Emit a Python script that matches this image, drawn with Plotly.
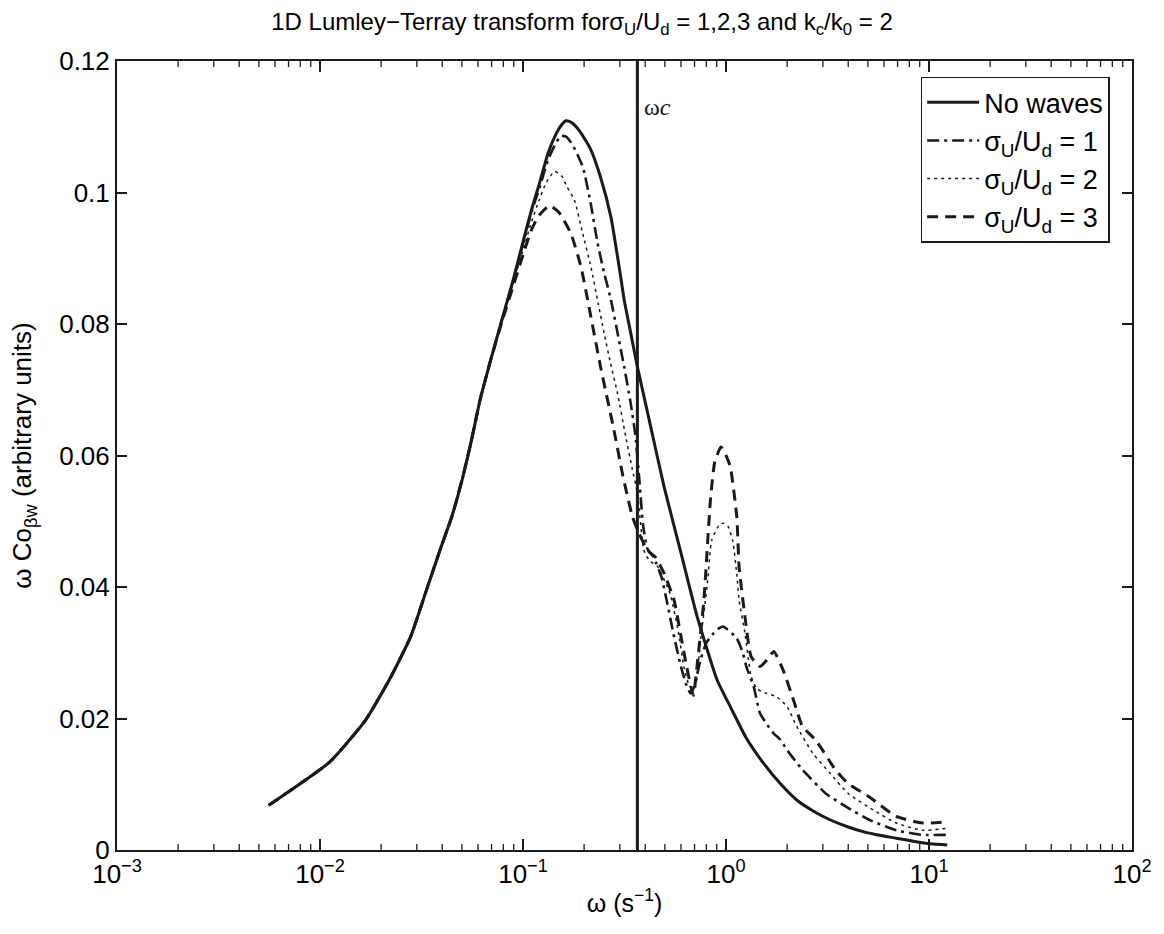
import math
import plotly.graph_objects as go

# ---------------- data ----------------
omega_nw = [0.00559, 0.01118, 0.0168, 0.0224, 0.028, 0.0335, 0.0391, 0.0447, 0.0503, 0.0559,
            0.0615, 0.07, 0.08, 0.09, 0.10, 0.11, 0.12, 0.133, 0.145, 0.155, 0.163, 0.172,
            0.185, 0.20, 0.216, 0.24, 0.271, 0.30, 0.315, 0.34, 0.366, 0.42, 0.495, 0.6,
            0.721, 0.903, 1.05, 1.25, 1.53, 1.85, 2.23, 2.7, 3.25, 4.0, 4.73, 5.8, 6.89,
            8.5, 10.5, 12.3]
co_nw = [0.0068, 0.0134, 0.0198, 0.0264, 0.0325, 0.0396, 0.0457, 0.0508, 0.0565, 0.0625,
         0.0685, 0.0750, 0.0814, 0.0870, 0.0925, 0.0973, 0.1012, 0.1060, 0.1088, 0.1103,
         0.1109, 0.1107, 0.1098, 0.1083, 0.1065, 0.1025, 0.0963, 0.0880, 0.0837, 0.0785,
         0.0735, 0.0652, 0.0553, 0.0452, 0.0355, 0.0259, 0.0218, 0.0172, 0.0132, 0.0101,
         0.0076, 0.0059, 0.0046, 0.0035, 0.0028, 0.0022, 0.0018, 0.0013, 0.0009, 0.00076]

omega_s1 = [0.00559, 0.01118, 0.0168, 0.0224, 0.028, 0.0335, 0.0391, 0.0447, 0.0503, 0.0559,
            0.0615, 0.07, 0.08, 0.09, 0.10, 0.11, 0.12, 0.133, 0.145, 0.154, 0.163, 0.175,
            0.197, 0.215, 0.233, 0.25, 0.271, 0.295, 0.315, 0.339, 0.358, 0.375, 0.39, 0.41,
            0.44, 0.48, 0.51, 0.55, 0.60, 0.64, 0.67, 0.70, 0.75, 0.80, 0.87, 0.93, 0.97,
            1.02, 1.13, 1.21, 1.26, 1.37, 1.47, 1.6, 1.72, 1.85, 2.0, 2.38, 3.1, 3.9, 5.07,
            6.9, 9.3, 12.3]
co_s1 = [0.0068, 0.0134, 0.0198, 0.0264, 0.0325, 0.0396, 0.0457, 0.0508, 0.0565, 0.0625,
         0.0685, 0.0750, 0.0814, 0.0869, 0.0922, 0.0970, 0.1005, 0.1050, 0.1075, 0.1086,
         0.1085, 0.1073, 0.1039, 0.0985, 0.0923, 0.0880, 0.0837, 0.0780, 0.0735, 0.0680,
         0.0630, 0.0560, 0.0495, 0.0458, 0.0445, 0.0416, 0.0380, 0.0330, 0.0279, 0.0250,
         0.0238, 0.0250, 0.0290, 0.0315, 0.0330, 0.0338, 0.0340, 0.0335, 0.0322, 0.0300,
         0.0279, 0.0248, 0.0208, 0.0190, 0.0177, 0.0168, 0.0152, 0.0122, 0.0086, 0.0066,
         0.0046, 0.0030, 0.0023, 0.0023]

omega_s2 = [0.00559, 0.01118, 0.0168, 0.0224, 0.028, 0.0335, 0.0391, 0.0447, 0.0503, 0.0559,
            0.0615, 0.07, 0.08, 0.09, 0.10, 0.11, 0.12, 0.13, 0.143, 0.155, 0.165, 0.179,
            0.196, 0.216, 0.235, 0.251, 0.27, 0.292, 0.32, 0.345, 0.366, 0.394, 0.42, 0.46,
            0.53, 0.584, 0.62, 0.66, 0.70, 0.75, 0.81, 0.85, 0.93, 0.974, 1.02, 1.08, 1.13,
            1.16, 1.24, 1.33, 1.42, 1.59, 1.78, 2.0, 2.23, 2.68, 3.25, 4.0, 5.3, 6.9, 9.3,
            12.3]
co_s2 = [0.0068, 0.0134, 0.0198, 0.0264, 0.0325, 0.0396, 0.0457, 0.0508, 0.0565, 0.0625,
         0.0685, 0.0750, 0.0812, 0.0865, 0.0912, 0.0955, 0.0988, 0.1015, 0.1032, 0.1025,
         0.1008, 0.0989, 0.0940, 0.0887, 0.0830, 0.0786, 0.0740, 0.0695, 0.0630, 0.0580,
         0.0543, 0.0456, 0.0440, 0.0431, 0.0390, 0.0330, 0.0279, 0.0250, 0.0245, 0.0320,
         0.0406, 0.0471, 0.0495, 0.0497, 0.0493, 0.0470, 0.0420, 0.0380, 0.0330, 0.0264,
         0.0245, 0.0238, 0.0233, 0.0218, 0.0188, 0.0147, 0.0117, 0.0086, 0.0061, 0.0041,
         0.0030, 0.0033]

omega_s3 = [0.00559, 0.01118, 0.0168, 0.0224, 0.028, 0.0335, 0.0391, 0.0447, 0.0503, 0.0559,
            0.0615, 0.07, 0.08, 0.09, 0.10, 0.11, 0.12, 0.135, 0.15, 0.172, 0.193, 0.216,
            0.241, 0.28, 0.31, 0.346, 0.372, 0.41, 0.45, 0.495, 0.555, 0.596, 0.64, 0.69,
            0.72, 0.778, 0.838, 0.88, 0.945, 1.0, 1.05, 1.13, 1.16, 1.24, 1.33, 1.47, 1.6,
            1.72, 1.91, 2.15, 2.38, 2.77, 3.46, 4.0, 5.07, 6.9, 9.3, 12.3]
co_s3 = [0.0068, 0.0134, 0.0198, 0.0264, 0.0325, 0.0396, 0.0457, 0.0508, 0.0565, 0.0625,
         0.0685, 0.0750, 0.0810, 0.0860, 0.0905, 0.0943, 0.0965, 0.0980, 0.0970, 0.0938,
         0.0887, 0.0811, 0.0735, 0.0640, 0.0570, 0.0507, 0.0482, 0.0456, 0.0445, 0.0421,
         0.0380, 0.0330, 0.0279, 0.0235, 0.0280, 0.0380, 0.0532, 0.0590, 0.0613, 0.0600,
         0.0583, 0.0507, 0.0431, 0.0355, 0.0294, 0.0279, 0.0290, 0.0302, 0.0274, 0.0228,
         0.0188, 0.0167, 0.0122, 0.0101, 0.0081, 0.0051, 0.0041, 0.0043]

omega_c = 0.366
y_range = [0, 0.12]
y_ticks = [0, 0.02, 0.04, 0.06, 0.08, 0.1, 0.12]
y_ticklabels = ["0", "0.02", "0.04", "0.06", "0.08", "0.1", "0.12"]
x_ticks = [1e-3, 1e-2, 1e-1, 1e0, 1e1, 1e2]
x_ticklabels = ["10<sup>−3</sup>", "10<sup>−2</sup>", "10<sup>−1</sup>",
                "10<sup>0</sup>", "10<sup>1</sup>", "10<sup>2</sup>"]
x_minor_ticks = [m * d for d in (1e-3, 1e-2, 1e-1, 1e0, 1e1) for m in range(2, 10)]

FONT = "Liberation Sans, Arial, Helvetica, sans-serif"
BLACK = "#1a1a1a"

fig = go.Figure()

fig.add_trace(go.Scatter(x=omega_nw, y=co_nw, mode="lines", name="No waves", legendgroup="a",
                         line=dict(color=BLACK, width=3, shape="spline", smoothing=0.5)))
fig.add_trace(go.Scatter(x=omega_s1, y=co_s1, mode="lines", legendgroup="b",
                         name="σ<sub>U</sub>/U<sub>d</sub> = 1",
                         line=dict(color=BLACK, width=2.6, dash="12px,5px,3px,5px",
                                   shape="spline", smoothing=0.5)))
fig.add_trace(go.Scatter(x=omega_s2, y=co_s2, mode="lines", legendgroup="c",
                         name="σ<sub>U</sub>/U<sub>d</sub> = 2",
                         line=dict(color=BLACK, width=1.5, dash="3px,4px",
                                   shape="spline", smoothing=0.5)))
fig.add_trace(go.Scatter(x=omega_s3, y=co_s3, mode="lines", legendgroup="d",
                         name="σ<sub>U</sub>/U<sub>d</sub> = 3",
                         line=dict(color=BLACK, width=3, dash="11px,7px",
                                   shape="spline", smoothing=0.5)))

# vertical omega_c line
fig.add_shape(type="line", x0=omega_c, x1=omega_c, xref="x", y0=0, y1=1, yref="paper",
              line=dict(color=BLACK, width=3))
fig.add_annotation(x=math.log10(omega_c), y=0.113, xref="x", yref="y",
                   text="ω<i>c</i>", showarrow=False, xanchor="left", xshift=5,
                   font=dict(family="Liberation Serif, Times New Roman, serif", size=24,
                             color=BLACK))

# minor log ticks (2..9 per decade), inside, on bottom and top edges of the box
MINOR_FRAC = 6 / 789
for v in x_minor_ticks:
    for (a, b) in ((0, MINOR_FRAC), (1 - MINOR_FRAC, 1)):
        fig.add_shape(type="line", x0=v, x1=v, xref="x", y0=a, y1=b, yref="paper",
                      line=dict(color=BLACK, width=1.3), layer="above")

fig.update_layout(
    width=1164, height=934,
    margin=dict(l=117, r=27, t=61, b=84),
    paper_bgcolor="white", plot_bgcolor="white",
    font=dict(family=FONT, size=26, color="black"),
    title=dict(text="1D Lumley−Terray transform forσ<sub>U</sub>/U<sub>d</sub> = 1,2,3 and "
                    "k<sub>c</sub>/k<sub>0</sub> = 2",
               x=0.5, xanchor="center", y=0.986, yanchor="top",
               font=dict(family=FONT, size=24)),
    showlegend=True,
    legend=dict(x=0.978, y=0.98, xanchor="right", yanchor="top",
                bgcolor="white", bordercolor=BLACK, borderwidth=1.5,
                font=dict(family=FONT, size=27, color="black"),
                itemwidth=52, tracegroupgap=6, traceorder="normal"),
    xaxis=dict(type="log", range=[-3, 2], tickvals=x_ticks, ticktext=x_ticklabels,
               ticks="inside", ticklen=11, tickwidth=1.6, tickcolor=BLACK,
               showline=True, linecolor=BLACK, linewidth=2, mirror="ticks",
               showgrid=False, zeroline=False, tickfont=dict(size=26),
               title=dict(text="ω (s<sup>−1</sup>)", font=dict(size=25), standoff=6)),
    yaxis=dict(range=y_range, tickvals=y_ticks, ticktext=y_ticklabels,
               ticks="inside", ticklen=10, tickwidth=1.5, tickcolor=BLACK,
               showline=True, linecolor=BLACK, linewidth=2, mirror="ticks",
               showgrid=False, zeroline=False, tickfont=dict(size=26),
               title=dict(text="ω Co<sub>βw</sub> (arbitrary units)", font=dict(size=26),
                          standoff=20)),
)

fig.write_html("out.html")
